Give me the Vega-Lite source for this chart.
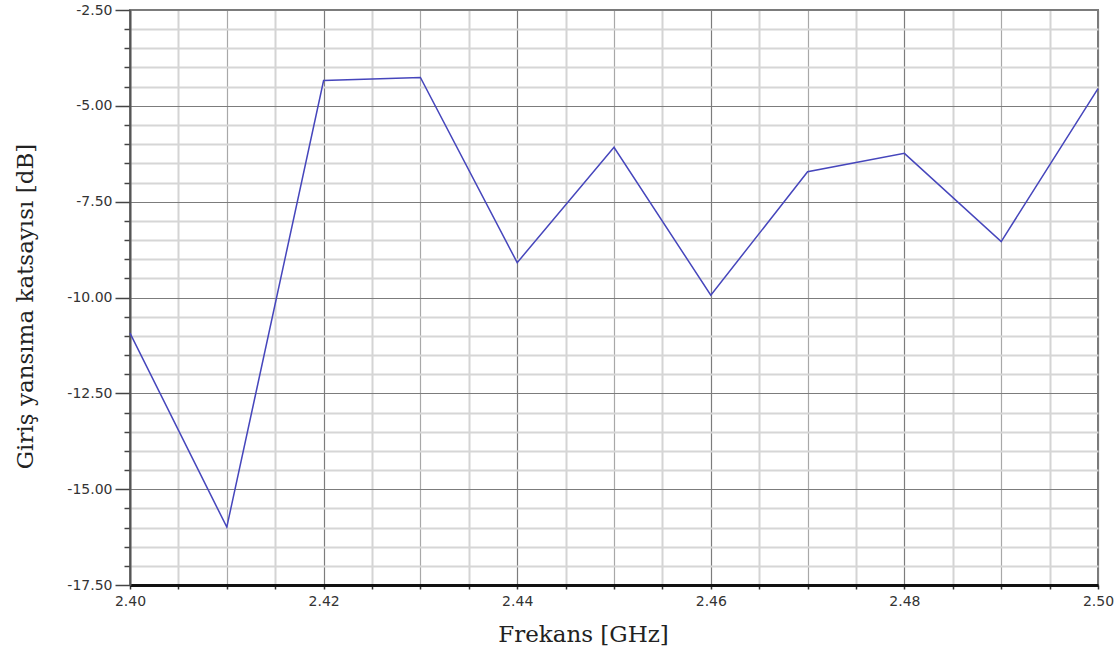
{
  "$schema": "https://vega.github.io/schema/vega-lite/v6.json",
  "autosize": "none",
  "width": 968,
  "height": 575,
  "padding": {"left": 130, "top": 10, "right": 22, "bottom": 70},
  "background": "white",
  "config": {
    "view": {"stroke": "#7a7a7a", "strokeWidth": 2}
  },
  "data": {
    "values": [
      {"f": 2.40, "s11": -10.93},
      {"f": 2.41, "s11": -15.99},
      {"f": 2.42, "s11": -4.34},
      {"f": 2.43, "s11": -4.26},
      {"f": 2.44, "s11": -9.09},
      {"f": 2.45, "s11": -6.08},
      {"f": 2.46, "s11": -9.94},
      {"f": 2.47, "s11": -6.72},
      {"f": 2.48, "s11": -6.24},
      {"f": 2.49, "s11": -8.54},
      {"f": 2.50, "s11": -4.55}
    ]
  },
  "mark": {"type": "line", "color": "#4646bc", "strokeWidth": 1.5},
  "encoding": {
    "x": {
      "field": "f",
      "type": "quantitative",
      "scale": {"domain": [2.4, 2.5], "nice": false, "zero": false},
      "axis": {
        "title": "Frekans [GHz]",
        "titleFont": "DejaVu Serif",
        "titleFontSize": 23,
        "titleFontWeight": "normal",
        "titleColor": "#222",
        "titleX": 453,
        "titleY": 56,
        "titleBaseline": "alphabetic",
        "titleAlign": "center",
        "values": [2.4, 2.405, 2.41, 2.415, 2.42, 2.425, 2.43, 2.435, 2.44, 2.445, 2.45, 2.455, 2.46, 2.465, 2.47, 2.475, 2.48, 2.485, 2.49, 2.495, 2.5],
        "labelExpr": "round(datum.value*1000) % 20 == 0 ? format(datum.value, '.2f') : ''",
        "labelFont": "DejaVu Sans",
        "labelFontSize": 14,
        "labelColor": "#333",
        "labelFlush": false,
        "labelOverlap": false,
        "labelPadding": 5,
        "tickSize": 4,
        "tickColor": "#333",
        "tickWidth": 1.5,
        "domainColor": "#111",
        "domainWidth": 3,
        "grid": true,
        "gridColor": {"condition": [
          {"test": "round(datum.value*1000) % 20 == 0", "value": "#7c7c7c"},
          {"test": "round(datum.value*1000) % 10 == 0", "value": "#a8a8a8"}
        ], "value": "#d4d4d4"},
        "gridWidth": {"condition": {"test": "round(datum.value*1000) % 10 == 0", "value": 1.2}, "value": 2}
      }
    },
    "y": {
      "field": "s11",
      "type": "quantitative",
      "scale": {"domain": [-17.5, -2.5], "nice": false, "zero": false},
      "axis": {
        "title": "Giriş yansıma katsayısı [dB]",
        "titleFont": "DejaVu Serif",
        "titleFontSize": 23,
        "titleFontWeight": "normal",
        "titleColor": "#222",
        "titleAngle": -90,
        "titleX": -105,
        "titleY": 296,
        "titleAlign": "center",
        "titleBaseline": "middle",
        "values": [-17.5, -17, -16.5, -16, -15.5, -15, -14.5, -14, -13.5, -13, -12.5, -12, -11.5, -11, -10.5, -10, -9.5, -9, -8.5, -8, -7.5, -7, -6.5, -6, -5.5, -5, -4.5, -4, -3.5, -3, -2.5],
        "labelExpr": "round(datum.value*10) % 25 == 0 ? replace(format(datum.value, '.2f'), '\u2212', '-') : ''",
        "labelFont": "DejaVu Sans",
        "labelFontSize": 14,
        "labelColor": "#333",
        "labelFlush": false,
        "labelOverlap": false,
        "labelPadding": 3,
        "tickSize": {"condition": {"test": "round(datum.value*10) % 25 == 0", "value": 15}, "value": 6},
        "tickColor": "#444",
        "tickWidth": 1.5,
        "domainColor": "#555",
        "domainWidth": 2,
        "grid": true,
        "gridColor": {"condition": {"test": "round(datum.value*10) % 25 == 0", "value": "#7c7c7c"}, "value": "#d6d6d6"},
        "gridWidth": {"condition": {"test": "round(datum.value*10) % 25 == 0", "value": 1.2}, "value": 2}
      }
    }
  }
}
